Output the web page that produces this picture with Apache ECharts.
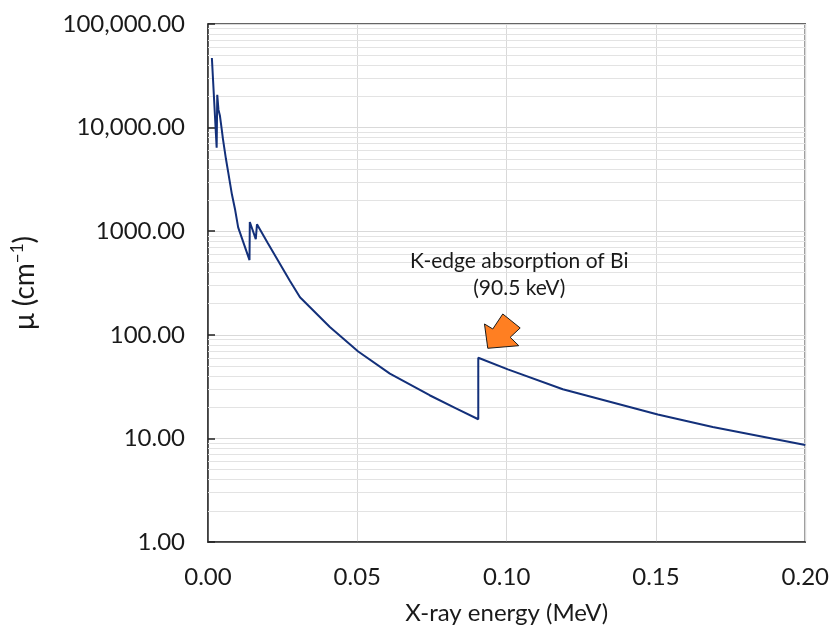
<!DOCTYPE html>
<html>
<head>
<meta charset="utf-8">
<script src="https://cdn.jsdelivr.net/npm/echarts@6/dist/echarts.min.js"></script>
<style>
  html, body { margin: 0; padding: 0; background: #ffffff; }
  #chart { width: 832px; height: 630px; }
</style>
</head>
<body>
<div id="chart"></div>
<script>
// Linear attenuation coefficient versus photon energy
const energyMeV = [0.0013, 0.0029, 0.0031, 0.0035, 0.0037, 0.0040, 0.0046, 0.0050, 0.0060, 0.0068,
  0.0080, 0.0091, 0.0101, 0.0139, 0.0140, 0.0160, 0.0164, 0.0200, 0.0274, 0.0308,
  0.0408, 0.0503, 0.0609, 0.0742, 0.0832, 0.0905, 0.0905, 0.1004, 0.1188, 0.1506,
  0.1690, 0.2000];
const muValues = [47000, 6400, 20700, 14900, 15500, 13000, 9600, 7800, 5000, 3660,
  2270, 1600, 1090, 526, 1227, 838, 1166, 770, 333, 230,
  119, 69, 42.2, 26.1, 19.4, 15.3, 60, 46.4, 29.8, 17.0,
  12.9, 8.63];

// K-edge of Bi, where the annotation arrow points
const kEdge = [0.0905, 60];

// Tick labels
const xTicks = [0, 0.05, 0.10, 0.15, 0.20];
const yTickLabels = { 1: '1.00', 10: '10.00', 100: '100.00', 1000: '1000.00', 10000: '10,000.00', 100000: '100,000.00' };

// Minor horizontal grid values (2..9 within each decade)
const minorGrid = [];
for (let d = 1; d < 100000; d *= 10) {
  for (let k = 2; k <= 9; k++) minorGrid.push(k * d);
}

const points = energyMeV.map((e, i) => [e, muValues[i]]);
const FONT = 'Lato, "Open Sans", sans-serif';

const chart = echarts.init(document.getElementById('chart'), null, { renderer: 'canvas' });

const option = {
  animation: false,
  backgroundColor: '#ffffff',
  grid: {
    left: 208, right: 26, top: 24, bottom: 86,
    show: true, borderColor: '#333333', borderWidth: 1.5, backgroundColor: 'transparent'
  },
  xAxis: {
    type: 'value',
    min: xTicks[0], max: xTicks[xTicks.length - 1], interval: 0.05,
    name: 'X-ray energy (MeV)',
    nameLocation: 'middle', nameGap: 59,
    nameTextStyle: { fontFamily: FONT, fontSize: 24, color: '#1a1a1a' },
    axisLine: { show: true, lineStyle: { color: '#333333', width: 1.5 } },
    axisTick: { show: false },
    axisLabel: {
      margin: 23, fontFamily: FONT, fontSize: 24, color: '#1a1a1a',
      formatter: v => v.toFixed(2)
    },
    splitLine: { show: true, lineStyle: { color: '#d9d9d9', width: 1 } }
  },
  yAxis: {
    type: 'log', logBase: 10, min: 1, max: 100000, splitNumber: 5,
    name: 'μ (cm{sup|−1})',
    nameLocation: 'middle', nameGap: 168, nameRotate: 90,
    nameTextStyle: {
      fontFamily: FONT, fontSize: 28, color: '#1a1a1a',
      rich: { sup: { fontFamily: FONT, fontSize: 17, color: '#1a1a1a', verticalAlign: 'top', padding: [0, 0, 14, 0] } }
    },
    axisLine: { show: true, lineStyle: { color: '#333333', width: 1.5 } },
    axisTick: { show: true, inside: true, length: 7, lineStyle: { color: '#222222', width: 1.5 } },
    axisLabel: {
      margin: 23, fontFamily: FONT, fontSize: 24, color: '#1a1a1a',
      formatter: v => yTickLabels[Math.round(v)] || ''
    },
    splitLine: { show: true, lineStyle: { color: '#d9d9d9', width: 1 } },
    minorTick: { show: false },
    minorSplitLine: { show: false }
  },
  series: [
    {
      // minor log gridlines
      type: 'line',
      data: [],
      silent: true,
      z: 1,
      markLine: {
        silent: true,
        symbol: 'none',
        label: { show: false },
        animation: false,
        lineStyle: { color: '#e3e3e3', width: 1, type: 'solid' },
        data: minorGrid.map(v => ({ yAxis: v }))
      }
    },
    {
      type: 'line',
      data: points,
      z: 5,
      showSymbol: false,
      symbol: 'none',
      lineStyle: { color: '#13307a', width: 2 },
      itemStyle: { color: '#13307a' }
    }
  ]
};

chart.setOption(option);

// Annotation placed relative to the K-edge point
const p = chart.convertToPixel({ gridIndex: 0 }, kEdge);
const tip = [p[0] + 9.5, p[1] - 9.5];
const arrowShape = [[0, 0], [-3.3, -24.3], [5, -19.3], [15, -34.3], [32.4, -20.3], [22.4, -11], [31, -2.6]];

chart.setOption({
  graphic: [
    {
      type: 'polygon',
      z: 100,
      shape: { points: arrowShape.map(q => [tip[0] + q[0], tip[1] + q[1]]) },
      style: { fill: '#ff7f22', stroke: '#1a1a1a', lineWidth: 1 }
    },
    {
      type: 'text',
      z: 100,
      x: p[0] + 41, y: p[1] - 83,
      style: {
        text: 'K-edge absorption of Bi\n(90.5 keV)',
        fontFamily: FONT, fontSize: 21, lineHeight: 27,
        fill: '#1a1a1a', align: 'center', verticalAlign: 'middle'
      }
    }
  ]
});
</script>
</body>
</html>
